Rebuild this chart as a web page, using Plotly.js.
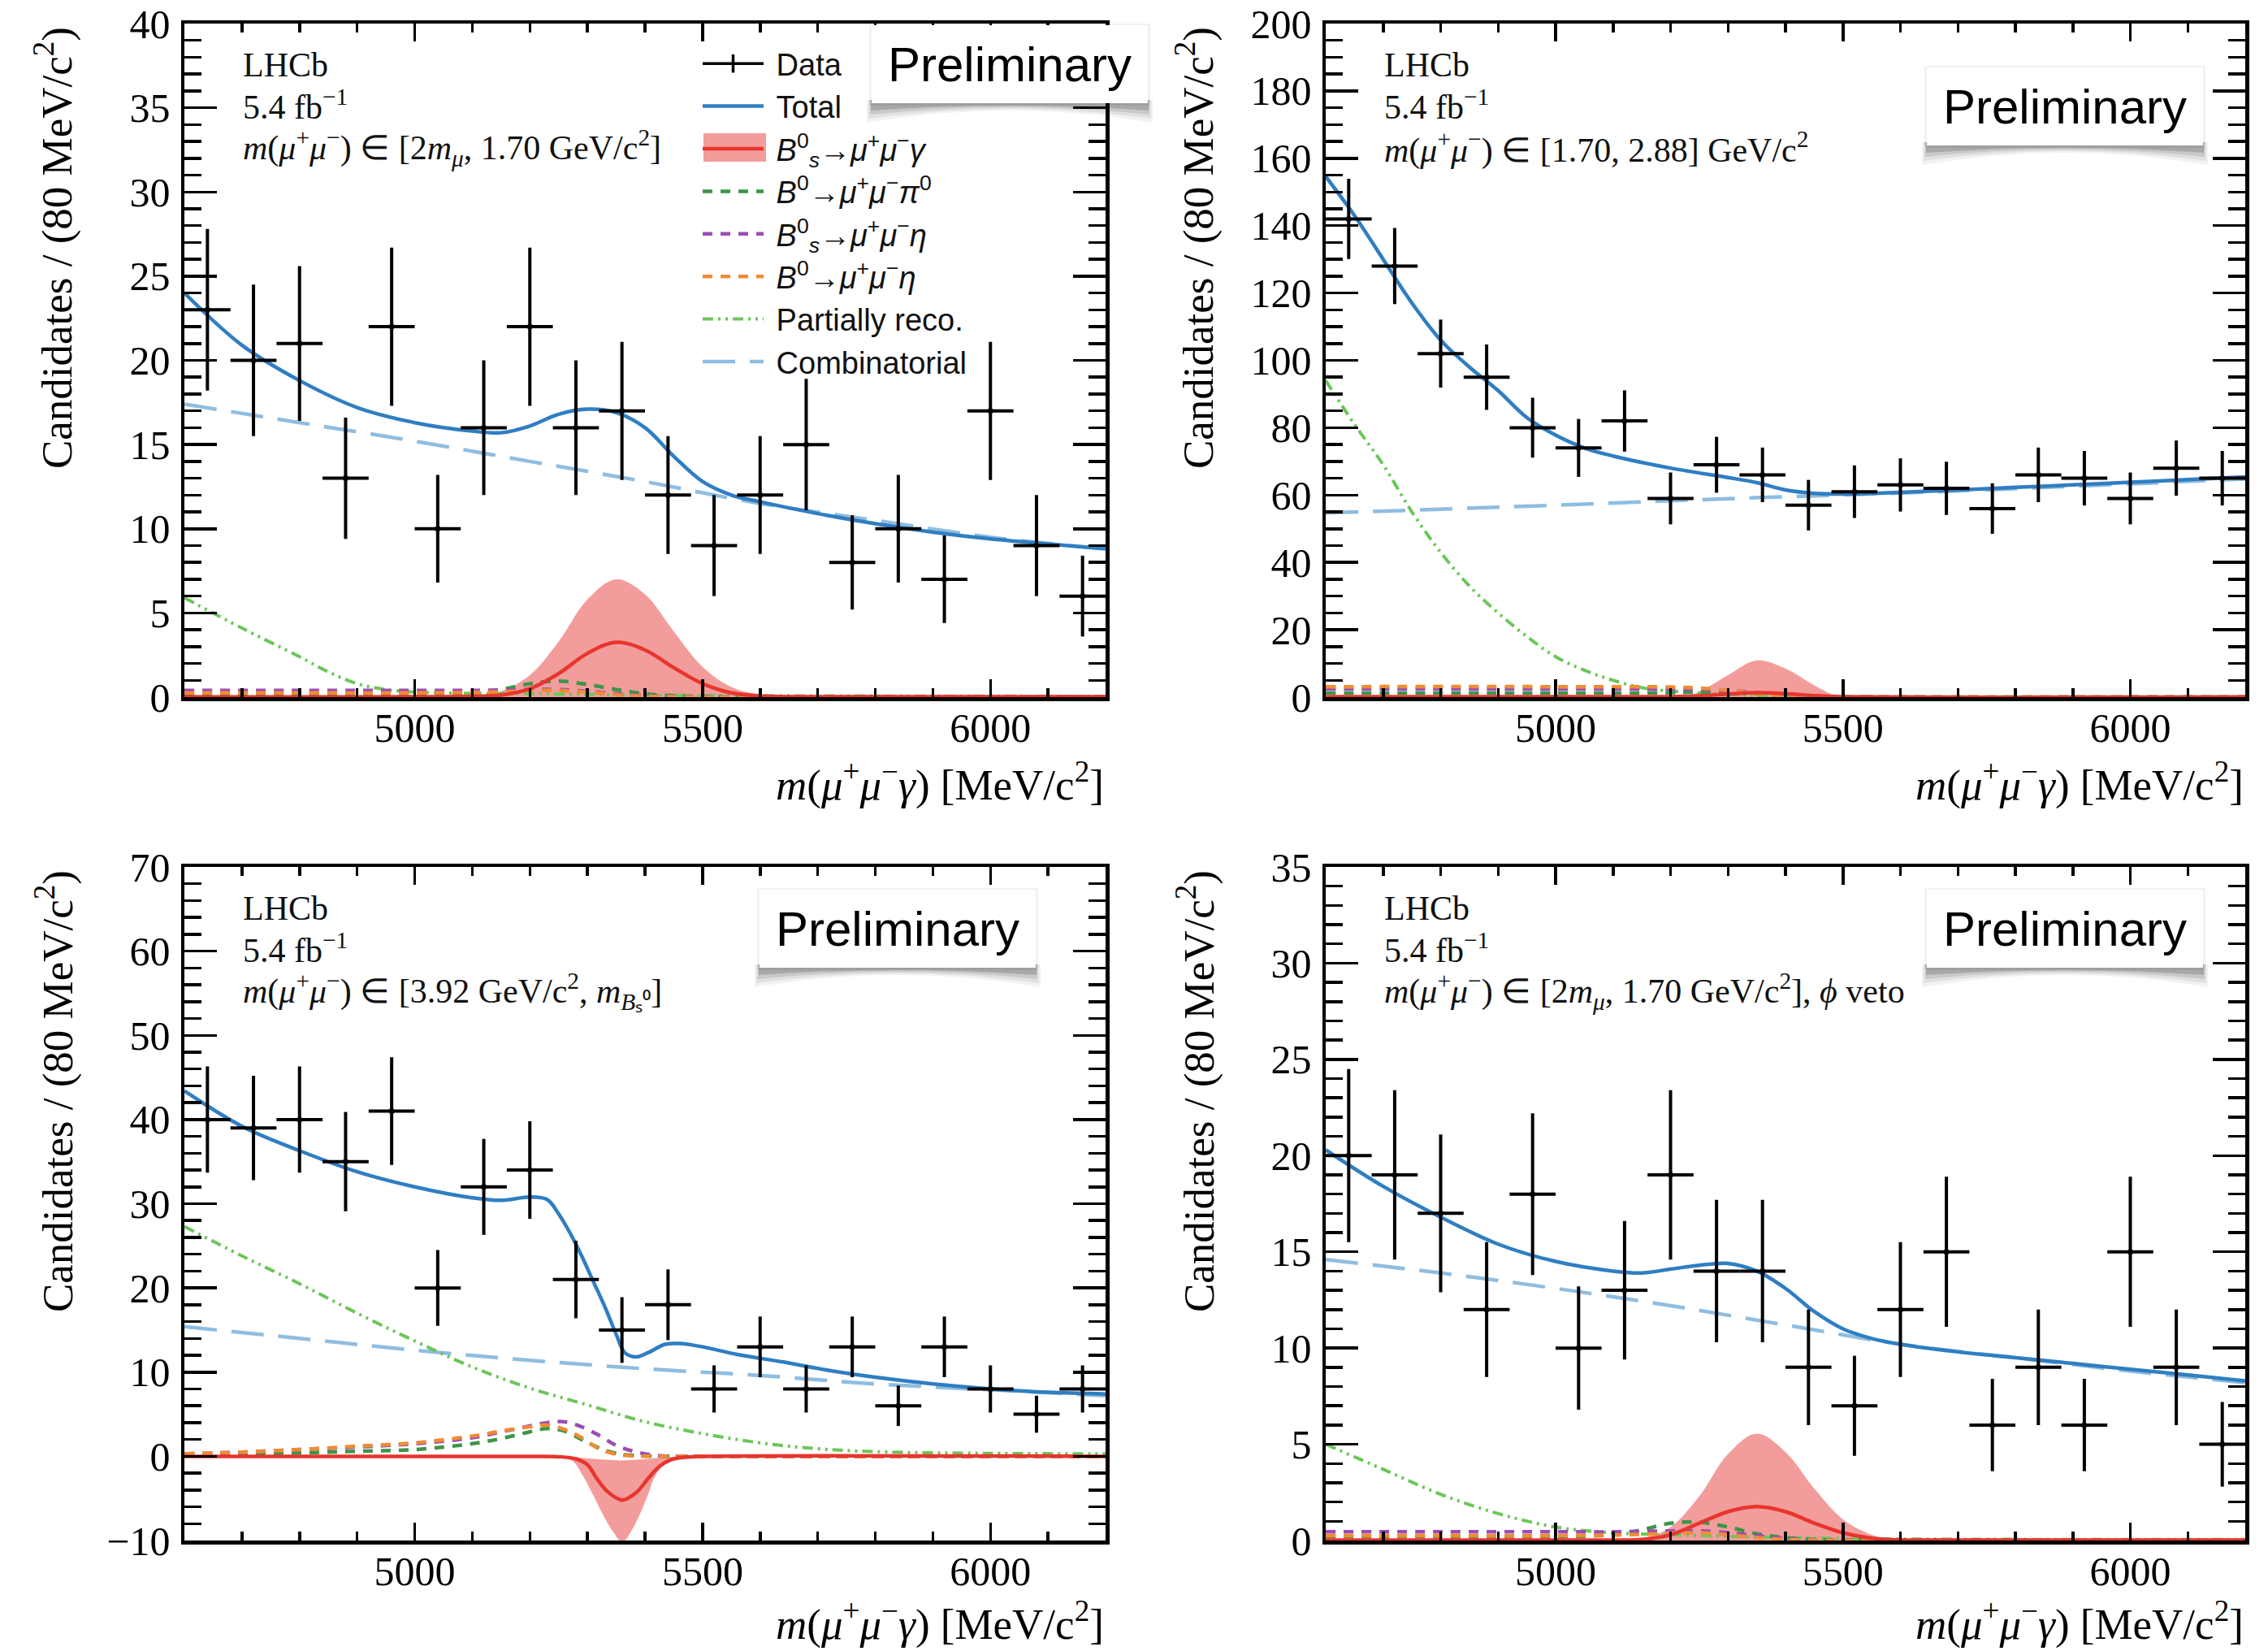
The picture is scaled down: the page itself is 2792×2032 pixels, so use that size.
<!DOCTYPE html>
<html><head><meta charset="utf-8">
<script src="https://cdn.plot.ly/plotly-3.0.1.min.js"></script>
<style>html,body{margin:0;padding:0;background:#fff}</style>
</head><body><div id="chart" style="width:2792px;height:2032px"></div>
<script>
// ---------------- DATA ----------------
const binCenters = [4640,4720,4800,4880,4960,5040,5120,5200,5280,5360,5440,5520,5600,5680,5760,5840,5920,6000,6080,6160];

// Top-left: m(mumu) in [2m_mu, 1.70]
const tlCounts = [23,20,21,13,22,10,16,22,16,17,12,9,12,15,8,10,7,17,9,6];
const tlErrs   = [4.8,4.5,4.6,3.6,4.7,3.2,4.0,4.7,4.0,4.1,3.5,3.0,3.5,3.9,2.8,3.2,2.6,4.1,3.0,2.4];
const tlTotalX = [4600,4700,4800,4900,5000,5100,5150,5200,5250,5300,5350,5400,5450,5500,5550,5600,5700,5800,5900,6000,6100,6200];
const tlTotal  = [24.0,20.9,18.8,17.2,16.3,15.8,15.7,16.1,16.8,17.1,16.9,16.0,14.3,12.8,12.0,11.6,10.9,10.3,9.8,9.4,9.1,8.8];
const tlCombX  = [4600,4800,5000,5200,5400,5600,5800,6000,6200];
const tlComb   = [17.4,16.3,15.2,14.0,12.8,11.5,10.5,9.5,8.8];
const tlPartX  = [4600,4700,4800,4850,4900,4950,5000,5200,5500,6200];
const tlPart   = [5.9,4.1,2.4,1.5,0.8,0.45,0.3,0.2,0.1,0.05];
const tlSigX   = [4600,5100,5150,5200,5250,5300,5350,5400,5450,5500,5550,5600,5700,6200];
const tlSig    = [0.02,0.05,0.12,0.5,1.4,2.6,3.26,2.8,1.75,0.8,0.25,0.07,0.02,0.02];
const tlBandHi = [0.02,0.1,0.35,1.3,3.3,5.8,7.0,6.1,3.9,1.8,0.6,0.15,0.02,0.02];
const tlPkX    = [4600,4800,5000,5100,5150,5200,5250,5300,5350,5400,5450,5500,6200];
const tlPi0    = [0.2,0.2,0.2,0.25,0.45,0.8,0.95,0.75,0.45,0.2,0.08,0.03,0.0];
const tlEtaS   = [0.4,0.4,0.4,0.4,0.42,0.45,0.45,0.35,0.2,0.08,0.03,0.01,0.0];
const tlEta    = [0.25,0.25,0.25,0.28,0.32,0.38,0.4,0.3,0.15,0.05,0.02,0.0,0.0];

// Top-right: m(mumu) in [1.70, 2.88]
const trCounts = [142,128,102,95,80,74,82,59,69,66,57,61,63,62,56,66,65,59,68,65];
const trErrs   = [11.9,11.3,10.1,9.7,8.9,8.6,9.1,7.7,8.3,8.1,7.5,7.8,7.9,7.9,7.5,8.1,8.1,7.7,8.2,8.1];
const trTotalX = [4600,4650,4700,4750,4800,4850,4900,4950,5000,5050,5100,5200,5300,5350,5400,5450,5500,5600,5700,5800,5900,6000,6100,6200];
const trTotal  = [154.6,143,130,117,106,98,91,83,77.8,74,71.6,68,65.2,63.7,61.5,60.5,60.3,60.8,61.5,62.3,63,63.8,64.6,65.4];
const trCombX  = [4600,4800,5000,5200,5400,5600,5800,6000,6200];
const trComb   = [54.7,55.8,57.0,58.3,59.5,60.6,61.9,63.3,64.8];
const trPartX  = [4600,4650,4700,4750,4800,4850,4900,4950,5000,5050,5100,5150,5200,5300,5400,5600,6200];
const trPart   = [94,81,69,55,43,33,25,18,12,8,5,2.8,1.8,0.8,0.3,0.1,0.05];
const trSigX   = [4600,5200,5250,5300,5350,5400,5450,5500,6200];
const trSig    = [0.1,0.15,0.4,0.9,1.3,1.0,0.45,0.15,0.05];
const trBandX  = [4600,5200,5230,5260,5300,5350,5400,5450,5490,5520,6200];
const trBandHi = [0,0,0.3,2.5,6.5,10.9,8.5,3.5,0.3,0,0];
const trPkX    = [4600,5000,5200,5250,5300,5350,5400,5450,5500,6200];
const trPi0    = [1.2,1.2,1.3,1.5,1.4,0.9,0.4,0.1,0.02,0];
const trEtaS   = [2.4,2.4,2.4,2.3,2.0,1.3,0.6,0.2,0.05,0];
const trEta    = [3.1,3.1,3.0,2.7,2.0,1.0,0.4,0.1,0.02,0];

// Bottom-left: m(mumu) in [3.92, m_Bs]
const blCounts = [40,39,40,35,41,20,32,34,21,15,18,8,13,8,13,6,13,8,5,8];
const blErrs   = [6.3,6.2,6.3,5.9,6.4,4.5,5.7,5.8,4.6,3.9,4.2,2.8,3.6,2.8,3.6,2.4,3.6,2.8,2.2,2.8];
const blTotalX = [4600,4700,4800,4900,5000,5100,5150,5200,5230,5250,5270,5290,5310,5330,5350,5365,5385,5405,5435,5460,5500,5560,5640,5720,5800,5900,6000,6100,6200];
const blTotal  = [43.4,39.2,36.3,33.8,32.0,30.7,30.4,30.8,30.5,28.8,26.5,23.8,20.8,17.8,14.5,12.3,11.8,12.3,13.3,13.4,13.0,12.1,11.2,10.2,9.4,8.6,8.0,7.6,7.4];
const blCombX  = [4600,4800,5000,5200,5400,5600,5800,6000,6200];
const blComb   = [15.4,14.0,12.6,11.4,10.4,9.6,8.6,7.9,7.2];
const blPartX  = [4600,4700,4800,4900,5000,5100,5200,5300,5400,5500,5600,5700,5800,6000,6200];
const blPart   = [27.3,23.8,20.5,17.0,13.7,10.6,8.1,6.1,4.1,2.7,1.6,0.9,0.55,0.35,0.3];
const blSigX   = [4600,5200,5250,5280,5300,5316,5335,5361,5385,5406,5425,5445,5470,5500,6200];
const blSig    = [0,0,-0.05,-0.3,-1.0,-2.6,-4.2,-5.2,-4.3,-2.6,-1.2,-0.4,-0.1,0,0];
const blBandX  = [5250,5275,5292,5310,5329,5345,5361,5375,5389,5405,5418,5440,5470];
const blBandHi = [0,-0.1,-0.2,-0.3,-0.4,-0.45,-0.5,-0.45,-0.4,-0.3,-0.2,-0.1,0];
const blBandLo = [0,-0.6,-2.3,-4.6,-7.2,-9.0,-10.2,-9.0,-7.2,-4.6,-2.3,-0.6,0];
const blPkX    = [4600,4700,4800,4900,5000,5100,5150,5200,5230,5260,5290,5320,5350,5380,5420,5500,6200];
const blPi0    = [0.2,0.3,0.4,0.6,0.8,1.5,2.1,2.9,3.3,3.0,2.0,1.0,0.35,0.1,0.02,0,0];
const blEtaS   = [0.3,0.5,0.8,1.1,1.5,2.2,2.9,3.6,4.0,4.1,3.5,2.5,1.3,0.6,0.1,0,0];
const blEta    = [0.3,0.5,0.8,1.2,1.6,2.4,3.0,3.5,3.7,3.2,2.2,0.9,0.25,0.05,0,0,0];

// Bottom-right: m(mumu) in [2m_mu, 1.70], phi veto
const brCounts = [20,19,17,12,18,10,13,19,14,14,9,7,12,15,6,9,6,15,9,5];
const brErrs   = [4.5,4.4,4.1,3.5,4.2,3.2,3.6,4.4,3.7,3.7,3.0,2.6,3.5,3.9,2.4,3.0,2.4,3.9,3.0,2.2];
const brTotalX = [4600,4700,4800,4900,5000,5100,5150,5200,5250,5300,5350,5400,5450,5500,5550,5600,5700,5800,5900,6000,6100,6200];
const brTotal  = [20.3,18.4,16.8,15.4,14.5,14.0,13.9,14.1,14.3,14.4,14.0,13.1,11.9,11.0,10.5,10.2,9.8,9.5,9.2,8.9,8.6,8.3];
const brCombX  = [4600,4800,5000,5200,5400,5600,5800,6000,6200];
const brComb   = [14.6,13.9,13.1,12.2,11.2,10.2,9.5,8.8,8.2];
const brPartX  = [4600,4700,4800,4900,5000,5100,5200,5400,5600,6200];
const brPart   = [5.0,3.7,2.4,1.4,0.7,0.4,0.3,0.15,0.08,0.05];
const brSigX   = [4600,5100,5150,5200,5250,5300,5350,5400,5450,5500,5550,5600,5700,6200];
const brSig    = [0.02,0.02,0.05,0.3,0.9,1.5,1.76,1.5,0.9,0.4,0.12,0.03,0.02,0.02];
const brBandHi = [0.02,0.03,0.1,0.7,2.3,4.5,5.55,4.6,2.7,1.1,0.3,0.05,0.02,0.02];
const brPkX    = [4600,4800,5000,5100,5150,5200,5250,5300,5350,5400,5450,5500,6200];
const brPi0    = [0.2,0.2,0.2,0.3,0.55,0.9,0.95,0.7,0.35,0.15,0.05,0.02,0];
const brEtaS   = [0.45,0.45,0.45,0.45,0.47,0.5,0.5,0.4,0.25,0.1,0.03,0.01,0];
const brEta    = [0.25,0.25,0.25,0.28,0.32,0.38,0.4,0.3,0.15,0.05,0.02,0,0];

// Labels
const legendNames = {
  data: 'Data',
  total: 'Total',
  sig: '<i>B</i><sup>0</sup><sub><i>s</i></sub>→<i>μ</i><sup>+</sup><i>μ</i><sup>−</sup><i>γ</i>',
  pi0: '<i>B</i><sup>0</sup>→<i>μ</i><sup>+</sup><i>μ</i><sup>−</sup><i>π</i><sup>0</sup>',
  etaS: '<i>B</i><sup>0</sup><sub><i>s</i></sub>→<i>μ</i><sup>+</sup><i>μ</i><sup>−</sup><i>η</i>',
  eta: '<i>B</i><sup>0</sup>→<i>μ</i><sup>+</sup><i>μ</i><sup>−</sup><i>η</i>',
  part: 'Partially reco.',
  comb: 'Combinatorial'
};
const mmu = '<i>m</i>(<i>μ</i><sup>+</sup><i>μ</i><sup>−</sup>) ∈ ';
const binLabels = [
  mmu + '[2<i>m</i><sub><i>μ</i></sub>, 1.70 GeV/c<sup>2</sup>]',
  mmu + '[1.70, 2.88] GeV/c<sup>2</sup>',
  mmu + '[3.92 GeV/c<sup>2</sup>, <i>m</i><sub><i>B</i>ₛ⁰</sub>]',
  mmu + '[2<i>m</i><sub><i>μ</i></sub>, 1.70 GeV/c<sup>2</sup>], <i>ϕ</i> veto'
];
const xTitle = '<i>m</i>(<i>μ</i><sup>+</sup><i>μ</i><sup>−</sup><i>γ</i>) [MeV/c<sup>2</sup>]';
const yTitle = 'Candidates / (80 MeV/c<sup>2</sup>)';

// ---------------- STYLE ----------------
const W = 2792, H = 2032;
const px = v => v / W, py = v => 1 - v / H;
const C = {
  total: '#2f7ec2', comb: '#8fbde0', part: '#6cc65a', sig: '#e8352d',
  band: 'rgba(238,130,128,0.78)', pi0: '#3b9647', etaS: '#9b4db4', eta: '#f08c35'
};
const SERIF = 'Liberation Serif, Times New Roman, serif';
const SANS = 'Liberation Sans, Arial, sans-serif';
const NB = '\u00a0';

const panels = [
  {name:'tl', X:[227,1361], Y:[29,858], yr:[0,40], dt:5, mdt:1, counts:tlCounts, errs:tlErrs,
   totalX:tlTotalX,total:tlTotal, combX:tlCombX,comb:tlComb, partX:tlPartX,part:tlPart,
   sigX:tlSigX,sig:tlSig, bandX:tlSigX,bandHi:tlBandHi, pkX:tlPkX,pi0:tlPi0,etaS:tlEtaS,eta:tlEta},
  {name:'tr', X:[1632,2764], Y:[29,858], yr:[0,200], dt:20, mdt:5, counts:trCounts, errs:trErrs,
   totalX:trTotalX,total:trTotal, combX:trCombX,comb:trComb, partX:trPartX,part:trPart,
   sigX:trSigX,sig:trSig, bandX:trBandX,bandHi:trBandHi, pkX:trPkX,pi0:trPi0,etaS:trEtaS,eta:trEta},
  {name:'bl', X:[227,1361], Y:[1067,1896], yr:[-10,70], dt:10, mdt:2, counts:blCounts, errs:blErrs,
   totalX:blTotalX,total:blTotal, combX:blCombX,comb:blComb, partX:blPartX,part:blPart,
   sigX:blSigX,sig:blSig, bandX:blBandX,bandHi:blBandHi,bandLo:blBandLo, pkX:blPkX,pi0:blPi0,etaS:blEtaS,eta:blEta},
  {name:'br', X:[1632,2764], Y:[1067,1896], yr:[0,35], dt:5, mdt:1, counts:brCounts, errs:brErrs,
   totalX:brTotalX,total:brTotal, combX:brCombX,comb:brComb, partX:brPartX,part:brPart,
   sigX:brSigX,sig:brSig, bandX:brSigX,bandHi:brBandHi, pkX:brPkX,pi0:brPi0,etaS:brEtaS,eta:brEta}
];

const traces = [];
const layout = {
  width: W, height: H, margin: {l:0, r:0, t:0, b:0},
  paper_bgcolor: 'white', plot_bgcolor: 'white',
  showlegend: true,
  legend: {x: px(860), y: py(47), xanchor:'left', yanchor:'top', bgcolor:'rgba(0,0,0,0)',
           font:{family:SANS, size:38, color:'#111'}, itemwidth:75, traceorder:'normal',
           itemclick:false, itemdoubleclick:false},
  annotations: [], shapes: []
};

panels.forEach((P, i) => {
  const xa = i === 0 ? 'x' : 'x' + (i + 1);
  const ya = i === 0 ? 'y' : 'y' + (i + 1);
  const leg = i === 0;
  const base = {xaxis: xa, yaxis: ya, hoverinfo: 'skip'};
  if (P.bandLo) {
    traces.push(Object.assign({}, base, {x:P.bandX, y:P.bandLo, mode:'lines', line:{width:0, shape:'spline'}, showlegend:false}));
    traces.push(Object.assign({}, base, {x:P.bandX, y:P.bandHi, mode:'lines', fill:'tonexty', fillcolor:C.band, line:{width:0, shape:'spline'}, showlegend:false}));
  } else {
    traces.push(Object.assign({}, base, {x:P.bandX, y:P.bandHi, mode:'lines', fill:'tozeroy', fillcolor:C.band, line:{width:0, shape:'spline'}, showlegend:false}));
  }
  traces.push(Object.assign({}, base, {x:P.combX, y:P.comb, mode:'lines', name:NB+legendNames.comb, legendrank:8, showlegend:leg,
    line:{color:C.comb, width:4.5, dash:'40px,18px', shape:'spline'}}));
  traces.push(Object.assign({}, base, {x:P.partX, y:P.part, mode:'lines', name:NB+legendNames.part, legendrank:7, showlegend:leg,
    line:{color:C.part, width:4, dash:'13px,6px,3px,6px,3px,6px', shape:'spline'}}));
  traces.push(Object.assign({}, base, {x:P.pkX, y:P.pi0, mode:'lines', name:NB+legendNames.pi0, legendrank:4, showlegend:leg,
    line:{color:C.pi0, width:4.5, dash:'12px,10px', shape:'spline'}}));
  traces.push(Object.assign({}, base, {x:P.pkX, y:P.etaS, mode:'lines', name:NB+legendNames.etaS, legendrank:5, showlegend:leg,
    line:{color:C.etaS, width:4.5, dash:'12px,10px', shape:'spline'}}));
  traces.push(Object.assign({}, base, {x:P.pkX, y:P.eta, mode:'lines', name:NB+legendNames.eta, legendrank:6, showlegend:leg,
    line:{color:C.eta, width:4.5, dash:'12px,10px', shape:'spline'}}));
  traces.push(Object.assign({}, base, {x:P.sigX, y:P.sig, mode:'lines', name:NB+legendNames.sig, legendrank:3, showlegend:leg,
    line:{color:C.sig, width:4.5, shape:'spline'}}));
  traces.push(Object.assign({}, base, {x:P.totalX, y:P.total, mode:'lines', name:NB+legendNames.total, legendrank:2, showlegend:leg,
    line:{color:C.total, width:4.5, shape:'spline'}}));
  traces.push(Object.assign({}, base, {x:binCenters, y:P.counts, mode:'markers', showlegend:false,
    marker:{color:'black', size:7},
    error_y:{type:'data', array:P.errs, visible:true, color:'black', thickness:4, width:0},
    error_x:{type:'constant', value:40, visible:true, color:'black', thickness:4, width:0}}));
  if (leg) {
    traces.push(Object.assign({}, base, {x:[null], y:[null], mode:'lines+markers', name:NB+legendNames.data, legendrank:1,
      line:{color:'black', width:3.5}, marker:{symbol:'line-ns-open', size:26, color:'black', line:{width:3.5, color:'black'}}}));
  }

  const axKey = i === 0 ? '' : String(i + 1);
  layout['xaxis' + axKey] = {
    domain:[px(P.X[0]), px(P.X[1])], anchor: ya, range:[4600,6200],
    tickmode:'linear', tick0:5000, dtick:500,
    ticks:'inside', ticklen:22, tickwidth:3.5, tickcolor:'black',
    minor:{ticks:'inside', ticklen:11, tickwidth:3.5, tickcolor:'black', tickmode:'linear', tick0:5000, dtick:100, showgrid:false},
    showline:true, linewidth:4.5, linecolor:'black', mirror:'ticks',
    showgrid:false, zeroline:false, ticklabelstandoff:-10,
    tickfont:{family:SERIF, size:50, color:'black'}
  };
  layout['yaxis' + axKey] = {
    domain:[py(P.Y[1]), py(P.Y[0])], anchor: xa, range:P.yr,
    tickmode:'linear', tick0:0, dtick:P.dt,
    ticks:'inside', ticklen:40, tickwidth:3.5, tickcolor:'black',
    minor:{ticks:'inside', ticklen:21, tickwidth:3.5, tickcolor:'black', tickmode:'linear', tick0:0, dtick:P.mdt, showgrid:false},
    showline:true, linewidth:4.5, linecolor:'black', mirror:'ticks',
    showgrid:false, zeroline:false, ticklabelstandoff:3,
    tickfont:{family:SERIF, size:50, color:'black'}
  };

  const tx = P.X[0] + 70, ty = P.Y[0];
  const annFont = {family:SERIF, size:42, color:'#111'};
  [[51,48,'LHCb'],[100,48,'5.4 fb<sup>−1</sup>'],[153,58,binLabels[i]]].forEach(([dy, h, t]) => {
    layout.annotations.push({xref:'paper', yref:'paper', x:px(tx), y:py(ty + dy), xanchor:'left', yanchor:'middle',
      height:h, text:t, showarrow:false, font:annFont});
  });
  layout.annotations.push({xref:'paper', yref:'paper', x:px(P.X[1]), y:py(Math.min(P.Y[1] + 140, 2031)), xanchor:'right', yanchor:'bottom', text:xTitle, showarrow:false, font:{family:SERIF, size:53, color:'black'}});
  layout.annotations.push({xref:'paper', yref:'paper', x:px(P.X[0] - 160), y:py(P.Y[0] + 2), xanchor:'center', yanchor:'top', textangle:-90, text:yTitle, showarrow:false, font:{family:SERIF, size:53, color:'black'}});
});

// Preliminary boxes (centre px) with a curled drop shadow
const prelim = [[1243,79],[2542,131],[1105,1143],[2542,1143]];
prelim.forEach(([cx, cy]) => {
  const x0 = cx - 170, x1 = cx + 170, y0 = cy - 48, y1 = cy + 48;
  layout.shapes.push({type:'rect', xref:'paper', yref:'paper', layer:'above',
    x0:px(x0 - 3), x1:px(x1 + 3), y0:py(y0 - 2), y1:py(y1 + 3), fillcolor:'rgba(0,0,0,0.05)', line:{width:0}});
  [[24,9,6,0.05],[19,7,4,0.07],[14,5,2,0.10],[9,3,1,0.16]].forEach(([d, m, e, op]) => {
    const ctrl = y1 + 2 * m - d;
    const path = 'M' + px(x0 - e) + ',' + py(y1 - 4) +
                 ' L' + px(x0 - e) + ',' + py(y1 + d) +
                 ' Q' + px(cx) + ',' + py(ctrl) + ' ' + px(x1 + e) + ',' + py(y1 + d) +
                 ' L' + px(x1 + e) + ',' + py(y1 - 4) + ' Z';
    layout.shapes.push({type:'path', xref:'paper', yref:'paper', layer:'above', path:path,
      fillcolor:'rgba(0,0,0,' + op + ')', line:{width:0}});
  });
  layout.annotations.push({xref:'paper', yref:'paper', x:px(cx), y:py(cy), xanchor:'center', yanchor:'middle',
    width:340, height:96, bgcolor:'white', borderpad:0, borderwidth:0, showarrow:false,
    text:'Preliminary', font:{family:SANS, size:60, color:'black'}});
});

// pink band behind the legend symbol of the signal
layout.shapes.push({type:'rect', xref:'paper', yref:'paper', layer:'above',
  x0:px(866), x1:px(943), y0:py(164), y1:py(199), fillcolor:C.band, line:{width:0}});

Plotly.newPlot('chart', traces, layout, {displayModeBar:false, staticPlot:true});
</script></body></html>
